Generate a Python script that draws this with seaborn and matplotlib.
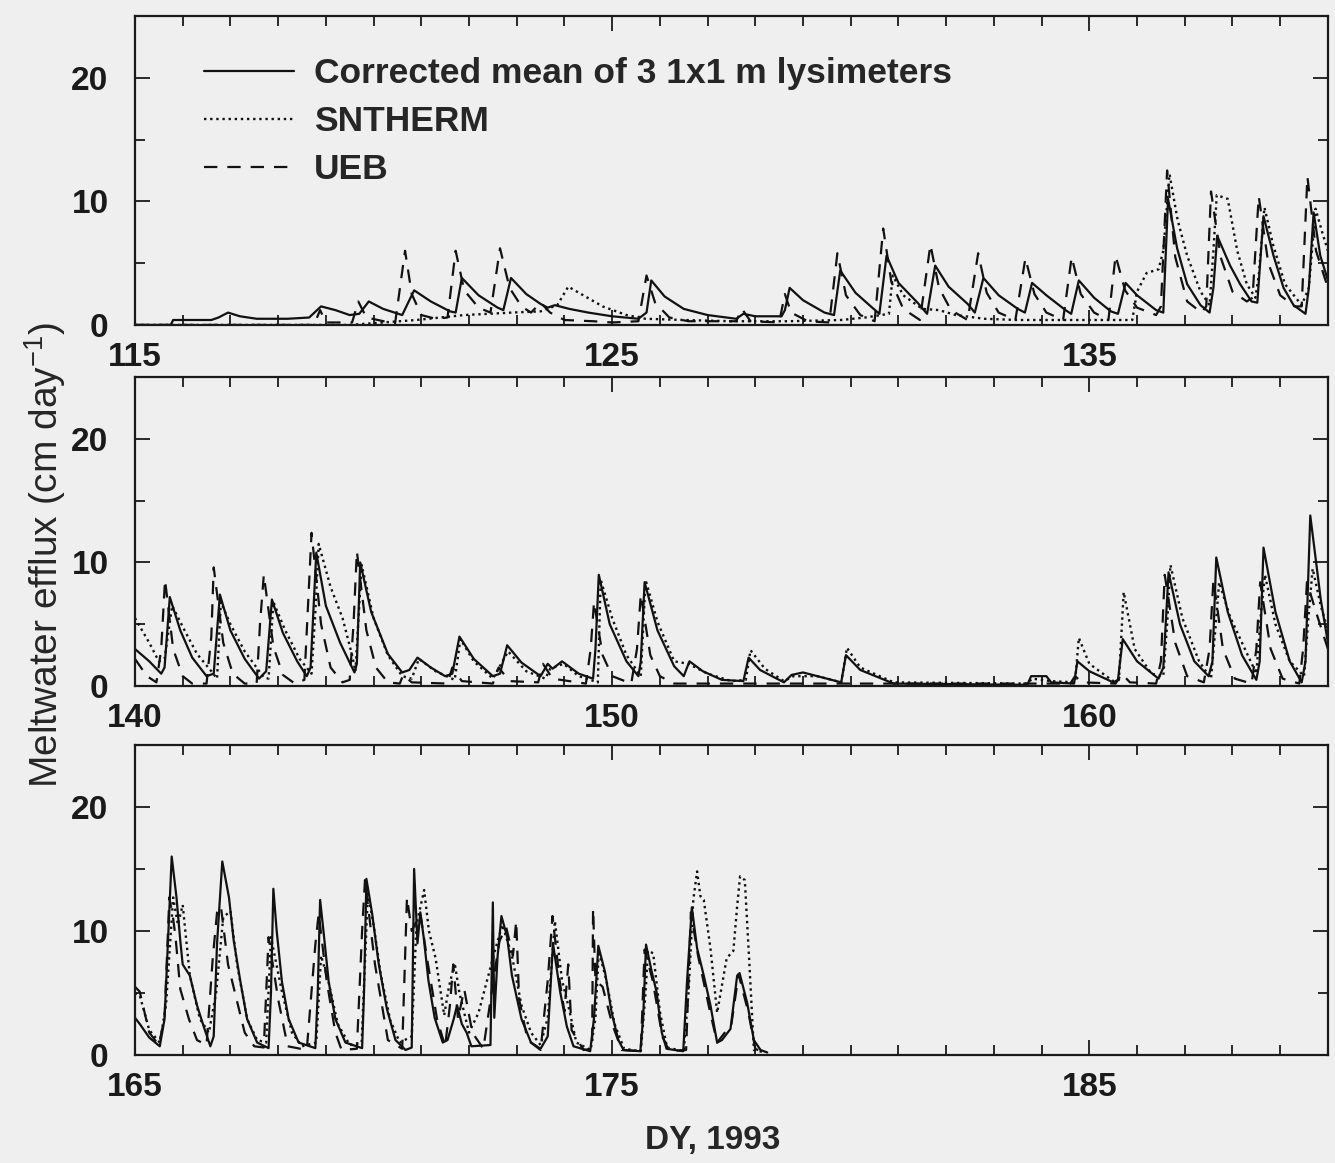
import matplotlib
matplotlib.use("Agg")
import matplotlib.pyplot as plt
import numpy as np
import pandas as pd
import seaborn as sns

# ---------------- data ----------------
series_names = ["Corrected mean of 3 1x1 m lysimeters", "SNTHERM", "UEB"]
panel_starts = [115, 140, 165]
x_tick_labels = [["115", "125", "135"], ["140", "150", "160"], ["165", "175", "185"]]
y_ticks = [0, 10, 20]

# Panel 1 (DY 115-140)
lys1_t = [115.0, 115.75, 115.8, 116.6, 116.75, 116.95, 117.2, 117.55, 118.2, 118.65, 118.9, 119.2, 119.5, 119.7,
          119.9, 120.2, 120.6, 120.85, 121.2, 121.6, 121.72, 121.85, 122.2, 122.6, 122.72, 122.88, 123.2, 123.5,
          123.65, 123.8, 124.1, 124.5, 125.0, 125.55, 125.72, 125.82, 126.1, 126.5, 127.0, 127.6, 127.75, 128.0,
          128.55, 128.62, 128.72, 129.0, 129.45, 129.65, 129.78, 130.1, 130.45, 130.6, 130.75, 131.0, 131.4, 131.6,
          131.77, 132.05, 132.45, 132.6, 132.78, 133.1, 133.5, 133.65, 133.8, 134.1, 134.5, 134.62, 134.78, 135.1,
          135.45, 135.6, 135.76, 136.0, 136.4, 136.55, 136.65, 136.84, 137.05, 137.33, 137.52, 137.6, 137.68, 137.95,
          138.16, 138.4, 138.52, 138.65, 138.86, 139.07, 139.28, 139.53, 139.6, 139.7, 139.84, 140.0]
lys1_v = [0.0, 0.0, 0.4, 0.4, 0.6, 1.0, 0.7, 0.5, 0.5, 0.6, 1.5, 1.2, 0.8, 0.9,
          1.9, 1.3, 0.8, 2.8, 1.9, 1.1, 1.0, 3.8, 2.4, 1.4, 1.2, 3.8, 2.5, 1.7,
          1.4, 1.6, 1.3, 1.0, 0.7, 0.5, 1.0, 3.6, 2.3, 1.3, 0.8, 0.5, 0.9, 0.7,
          0.7, 1.2, 3.0, 2.0, 1.0, 0.8, 4.4, 2.6, 1.4, 0.9, 5.6, 3.4, 1.8, 0.9,
          4.8, 3.1, 1.7, 1.0, 3.8, 2.4, 1.3, 1.0, 3.4, 2.4, 1.2, 0.9, 3.6, 2.2,
          1.1, 0.9, 3.4, 2.4, 1.2, 1.0, 10.2, 6.2, 3.3, 1.6, 1.0, 3.0, 7.2, 4.8,
          3.3, 1.9, 1.8, 8.8, 5.6, 3.0, 1.6, 0.9, 3.0, 9.1, 5.6, 3.6]
snt1_t = [115.0, 119.5, 120.9, 121.9, 122.9, 123.5, 123.85, 124.08, 124.35, 124.8, 125.3, 125.7, 126.5, 127.5,
          128.7, 129.8, 130.3, 130.8, 130.88, 131.1, 131.5, 131.85, 132.2, 132.8, 133.5, 135.9, 136.0, 136.2,
          136.45, 136.55, 136.68, 136.85, 137.05, 137.33, 137.52, 137.6, 137.67, 137.9, 138.1, 138.3, 138.48,
          138.55, 138.67, 138.85, 139.1, 139.45, 139.6, 139.74, 139.88, 140.0]
snt1_v = [0.0, 0.0, 0.4, 0.8, 1.0, 1.1, 1.6, 3.1, 2.5, 1.5, 0.8, 0.5, 0.4, 0.3,
          0.3, 0.4, 0.6, 0.9, 4.0, 2.4, 1.3, 1.2, 0.8, 0.5, 0.4, 0.4, 2.7, 4.2,
          4.5, 6.0, 12.2, 8.5, 5.6, 2.7, 1.6, 6.0, 10.5, 10.2, 6.0, 3.3, 2.2,
          4.0, 9.5, 6.5, 3.3, 1.6, 3.0, 9.4, 7.5, 6.0]
ueb1_t = [115.0, 118.75, 118.88, 119.0, 119.55, 119.68, 119.85, 120.45, 120.66, 120.8, 121.0, 121.3, 121.55,
          121.72, 121.9, 122.2, 122.45, 122.65, 122.85, 123.1, 123.3, 123.5, 123.7, 124.0, 124.6, 125.0, 125.55,
          125.72, 125.9, 126.2, 126.6, 127.6, 127.72, 127.9, 128.5, 128.62, 128.75, 129.1, 129.55, 129.72, 129.9,
          130.2, 130.5, 130.68, 130.85, 131.1, 131.45, 131.67, 131.85, 132.1, 132.45, 132.67, 132.85, 133.1,
          133.45, 133.66, 133.85, 134.1, 134.45, 134.63, 134.82, 135.1, 135.4, 135.55, 135.75, 136.0, 136.4,
          136.5, 136.63, 136.8, 137.05, 137.35, 137.45, 137.55, 137.75, 138.0, 138.3, 138.42, 138.55, 138.75,
          139.0, 139.3, 139.45, 139.57, 139.75, 140.0]
ueb1_v = [0.0, 0.0, 1.2, 0.2, 0.2, 1.9, 0.6, 0.1, 6.0, 2.5, 0.8, 0.5, 0.6,
          6.0, 2.8, 1.4, 1.0, 6.2, 3.0, 1.5, 1.0, 1.8, 1.0, 0.4, 0.3, 0.2, 0.3,
          4.0, 1.8, 0.6, 0.3, 0.3, 1.3, 0.3, 0.2, 2.5, 1.0, 0.3, 0.2, 5.8, 2.4,
          0.8, 0.3, 7.8, 3.5, 1.3, 0.4, 6.5, 3.0, 1.2, 0.4, 5.8, 2.6, 1.0,
          0.4, 5.4, 2.5, 1.0, 0.4, 5.5, 2.5, 1.0, 0.4, 5.6, 2.8, 1.4, 0.8,
          1.5, 12.5, 5.5, 1.9, 1.0, 1.5, 10.8, 5.5, 2.7, 1.9, 2.2, 10.4, 5.0,
          2.4, 1.5, 1.5, 12.0, 6.0, 3.0]

# Panel 2 (DY 140-165)
lys2_t = [140.0, 140.3, 140.55, 140.62, 140.73, 140.95, 141.2, 141.5, 141.65, 141.78, 142.0, 142.3, 142.6, 142.75,
          142.87, 143.1, 143.4, 143.6, 143.68, 143.8, 144.0, 144.3, 144.6, 144.65, 144.72, 144.95, 145.3, 145.6,
          145.75, 145.92, 146.2, 146.5, 146.65, 146.8, 147.1, 147.5, 147.65, 147.8, 148.1, 148.5, 148.65, 148.75,
          148.95, 149.3, 149.6, 149.65, 149.72, 149.95, 150.3, 150.55, 150.6, 150.68, 150.95, 151.3, 151.5, 151.62,
          151.9, 152.3, 152.75, 152.86, 153.1, 153.6, 153.76, 154.0, 154.3, 154.8, 154.9, 155.2, 155.9, 158.7, 158.78,
          159.1, 159.2, 159.68, 159.75, 160.0, 160.5, 160.6, 160.7, 161.0, 161.45, 161.55, 161.66, 161.9, 162.2,
          162.5, 162.58, 162.66, 162.9, 163.2, 163.5, 163.57, 163.65, 163.9, 164.2, 164.45, 164.53, 164.63,
          164.85, 165.0]
lys2_v = [3.0, 2.0, 1.0, 1.5, 7.2, 4.5, 2.3, 0.8, 1.0, 7.4, 4.5, 2.2, 0.6, 1.2,
          7.0, 4.3, 2.0, 0.8, 1.5, 10.8, 6.5, 3.5, 1.1, 1.8, 10.0, 6.0, 2.6, 1.1,
          1.3, 2.3, 1.5, 0.8, 1.0, 4.0, 2.2, 0.8, 1.0, 3.3, 1.9, 0.8, 1.8, 1.4,
          2.0, 1.0, 0.6, 3.0, 9.0, 5.0, 2.0, 0.8, 2.0, 8.4, 4.5, 1.6, 0.8, 2.0,
          1.2, 0.5, 0.4, 2.3, 1.3, 0.3, 0.9, 1.1, 0.8, 0.3, 2.5, 1.3, 0.2, 0.1, 0.8,
          0.8, 0.3, 0.2, 2.0, 1.2, 0.3, 0.5, 3.8, 2.0, 0.6, 1.5, 9.2, 5.0, 2.0,
          0.8, 2.0, 10.4, 6.0, 2.5, 0.5, 2.0, 11.2, 6.0, 2.0, 0.3, 2.0, 13.8,
          7.0, 3.5]
snt2_t = [140.0, 140.3, 140.5, 140.62, 140.78, 141.0, 141.3, 141.6, 141.72, 141.8, 142.0, 142.3, 142.7, 142.8,
          142.9, 143.15, 143.45, 143.7, 143.78, 143.85, 144.1, 144.35, 144.55, 144.62, 144.75, 145.0, 145.3,
          145.6, 145.8, 145.95, 146.3, 146.7, 146.82, 147.1, 147.5, 147.82, 148.2, 148.6, 148.7, 148.98, 149.3,
          149.7, 149.76, 150.0, 150.3, 150.6, 150.7, 150.95, 151.3, 151.6, 152.0, 152.5, 152.8, 152.9, 153.2,
          153.6, 153.8, 154.3, 154.8, 154.92, 155.2, 155.9, 158.7, 158.8, 159.2, 159.7, 159.78, 160.0, 160.5,
          160.62, 160.72, 160.95, 161.3, 161.55, 161.63, 161.7, 161.95, 162.3, 162.55, 162.65, 162.72, 162.95,
          163.2, 163.5, 163.6, 163.68, 163.9, 164.2, 164.5, 164.6, 164.68, 164.85, 165.0]
snt2_v = [5.5, 3.5, 2.0, 2.2, 6.5, 4.8, 2.6, 1.2, 0.6, 6.8, 5.0, 2.8, 0.7, 0.6,
          6.8, 4.5, 2.2, 1.0, 6.0, 11.5, 8.0, 5.5, 2.5, 1.2, 9.8, 5.5, 2.5,
          0.8, 0.6, 2.2, 1.2, 0.5, 3.8, 2.0, 0.6, 2.8, 1.2, 0.6, 1.4, 1.8, 0.8,
          0.3, 8.6, 5.5, 2.5, 0.8, 8.6, 5.2, 2.0, 1.8, 1.0, 0.4, 0.5, 2.9, 1.4,
          0.4, 0.8, 0.8, 0.3, 3.1, 1.5, 0.3, 0.2, 0.6, 0.4, 0.3, 3.9, 1.8, 0.4,
          0.5, 7.6, 3.0, 1.0, 0.8, 5.0, 9.8, 5.5, 2.0, 0.6, 5.0, 8.4, 5.6,
          3.5, 1.0, 6.0, 9.0, 5.0, 2.0, 0.8, 6.0, 9.5, 6.5, 4.5]
ueb2_t = [140.0, 140.25, 140.45, 140.55, 140.63, 140.8, 141.0, 141.2, 141.5, 141.6, 141.65, 141.85, 142.05, 142.3,
          142.55, 142.62, 142.7, 142.9, 143.1, 143.35, 143.55, 143.62, 143.7, 143.9, 144.1, 144.35, 144.5, 144.58,
          144.65, 144.85, 145.05, 145.3, 145.55, 145.62, 145.8, 146.55, 146.65, 146.85, 147.5, 147.62, 147.85,
          148.45, 148.55, 148.75, 149.45, 149.55, 149.62, 149.8, 150.0, 150.4, 150.52, 150.6, 150.8, 151.0, 151.3,
          159.6, 159.7, 159.85, 160.55, 160.68, 160.85, 161.4, 161.5, 161.58, 161.8, 162.05, 162.4, 162.52, 162.6,
          162.8, 163.05, 163.4, 163.5, 163.58, 163.8, 164.05, 164.4, 164.48, 164.56, 164.75, 165.0]
ueb2_v = [2.2, 0.8, 0.3, 3.0, 8.6, 3.0, 0.8, 0.2, 0.2, 4.0, 9.6, 3.5, 1.0, 0.2,
          0.2, 5.0, 9.0, 3.2, 0.9, 0.2, 0.5, 6.0, 12.4, 5.0, 1.5, 0.3, 0.5, 5.0,
          10.9, 4.5, 1.5, 0.3, 0.2, 0.9, 0.3, 0.2, 1.5, 0.4, 0.2, 1.5, 0.4,
          0.3, 1.8, 0.6, 0.2, 3.0, 6.8, 2.5, 0.8, 0.2, 3.0, 7.4, 2.5, 0.8, 0.2,
          0.2, 0.8, 0.3, 0.2, 1.0, 0.3, 0.2, 2.0, 9.0, 3.5, 0.8, 0.3, 3.0, 8.6,
          3.0, 0.6, 0.2, 3.0, 8.4, 3.0, 0.6, 0.2, 3.0, 8.4, 6.0, 3.0]

# Panel 3 (DY 165-190)
lys3_t = [165.0, 165.1, 165.3, 165.52, 165.62, 165.77, 165.87, 165.95, 166.0, 166.15, 166.3, 166.44, 166.58,
          166.65, 166.72, 166.83, 166.97, 167.07, 167.21, 167.35, 167.56, 167.8, 167.85, 167.9, 167.97, 168.08,
          168.22, 168.43, 168.78, 168.83, 168.88, 168.95, 169.06, 169.2, 169.41, 169.76, 169.8, 169.85, 169.97,
          170.11, 170.28, 170.46, 170.67, 170.8, 170.85, 170.92, 170.98, 171.05, 171.15, 171.28, 171.45, 171.55,
          171.68, 171.75, 171.85, 171.95, 172.05, 172.45, 172.5, 172.53, 172.6, 172.68, 172.8, 172.9, 173.1,
          173.3, 173.5, 173.65, 173.76, 173.91, 174.05, 174.19, 174.54, 174.62, 174.71, 174.85, 174.99, 175.13,
          175.24, 175.59, 175.65, 175.71, 175.83, 175.93, 176.04, 176.14, 176.49, 176.57, 176.67, 176.78, 176.92,
          177.06, 177.2, 177.3, 177.48, 177.62, 177.67, 177.83, 177.97, 178.11, 178.25]
lys3_v = [3.0, 2.5, 1.4, 0.7, 2.9, 16.0, 12.7, 9.2, 7.3, 6.4, 4.0, 2.3, 0.7,
          1.5, 9.0, 15.6, 12.7, 9.2, 5.9, 2.9, 1.0, 0.55, 5.0, 13.4, 10.0, 5.9,
          2.9, 1.0, 0.55, 5.0, 12.5, 10.0, 5.9, 2.9, 1.0, 0.55, 5.0, 14.2, 11.4,
          7.3, 3.7, 1.2, 0.4, 0.6, 15.0, 9.0, 11.5, 9.5, 6.0, 3.0, 1.0, 1.2,
          2.9, 4.0, 2.5, 1.8, 0.7, 0.8, 12.3, 3.0, 8.0, 11.2, 9.5, 6.4, 2.9,
          1.0, 0.5, 1.5, 9.0, 5.1, 2.3, 0.7, 0.3, 3.0, 8.8, 6.7, 3.4, 1.2,
          0.4, 0.3, 3.0, 8.9, 6.7, 5.1, 1.8, 0.5, 0.3, 6.0, 11.9, 8.6, 6.4,
          4.0, 1.0, 1.2, 2.1, 6.4, 6.6, 4.2, 1.2, 0.4, 0.2]
snt3_t = [165.0, 165.1, 165.3, 165.52, 165.65, 165.8, 165.9, 166.0, 166.15, 166.36, 166.55, 166.7, 166.85, 167.0,
          167.14, 167.35, 167.56, 167.75, 167.85, 168.08, 168.29, 168.5, 168.8, 168.9, 169.05, 169.25, 169.5,
          169.75, 169.88, 170.0, 170.15, 170.35, 170.55, 170.8, 170.9, 171.06, 171.16, 171.3, 171.48, 171.58,
          171.7, 171.8, 172.0, 172.2, 172.35, 172.55, 172.7, 172.9, 173.1, 173.3, 173.5, 173.65, 173.8, 173.95,
          174.08, 174.25, 174.55, 174.65, 174.72, 174.88, 175.05, 175.25, 175.6, 175.7, 175.75, 175.86, 176.0,
          176.15, 176.5, 176.6, 176.7, 176.78, 176.85, 176.92, 177.06, 177.2, 177.3, 177.4, 177.54, 177.62,
          177.68, 177.78, 177.87, 177.97, 178.2]
snt3_v = [5.0, 4.8, 2.0, 1.0, 4.0, 12.7, 10.5, 12.1, 6.4, 2.9, 1.8, 5.0, 11.1, 11.6,
          7.3, 2.9, 1.2, 1.0, 9.5, 5.1, 1.8, 0.7, 1.0, 8.0, 6.0, 2.5, 0.8,
          1.0, 13.0, 10.5, 6.5, 2.8, 1.0, 1.5, 10.5, 13.3, 10.0, 7.8, 3.2, 5.5,
          7.4, 5.0, 1.8, 3.4, 5.6, 8.5, 10.5, 8.0, 4.0, 1.8, 0.8, 3.0, 10.8, 6.0,
          4.0, 1.0, 0.4, 3.0, 8.4, 6.0, 2.5, 0.5, 0.3, 5.0, 8.4, 8.2, 3.5,
          0.6, 0.3, 5.0, 12.5, 14.8, 12.8, 12.5, 8.6, 3.4, 5.6, 7.8, 8.4, 12.0,
          14.4, 14.1, 7.8, 0.4, 0.2]
ueb3_t = [165.0, 165.1, 165.3, 165.5, 165.62, 165.72, 165.8, 165.85, 165.95, 166.13, 166.3, 166.5, 166.63, 166.72,
          166.8, 166.95, 167.3, 167.5, 167.7, 167.8, 168.0, 168.2, 168.6, 168.78, 168.85, 169.02, 169.2, 169.33,
          169.65, 169.76, 169.82, 170.03, 170.3, 170.6, 170.7, 170.8, 170.98, 171.12, 171.33, 171.5, 171.6,
          171.67, 171.77, 171.9, 172.07, 172.3, 172.55, 172.64, 172.78, 172.92, 172.99, 173.05, 173.23, 173.5,
          173.65, 173.75, 173.9, 174.0, 174.08, 174.15, 174.4, 174.58, 174.6, 174.65, 174.8, 175.0, 175.2, 175.6,
          175.68, 175.85, 176.05, 176.2, 176.55, 176.65, 176.8, 177.05, 177.2, 177.5, 177.65, 177.85, 178.0,
          178.15]
ueb3_v = [5.5, 5.1, 1.8, 0.8, 3.0, 12.7, 11.0, 9.5, 5.3, 2.9, 1.2, 0.8, 7.8, 11.5,
          12.0, 7.3, 1.8, 0.7, 0.6, 9.5, 4.5, 0.7, 0.4, 8.9, 11.4, 5.9, 1.8, 0.4,
          0.5, 10.0, 14.1, 7.3, 1.2, 0.5, 12.7, 10.0, 11.4, 7.8, 2.9, 0.7, 4.0,
          7.3, 2.9, 5.3, 1.8, 0.5, 7.0, 9.2, 10.3, 8.0, 10.8, 4.5, 1.2, 0.4,
          6.0, 11.2, 6.0, 3.5, 7.3, 2.0, 0.4, 0.5, 11.8, 6.0, 5.5, 2.5, 0.4, 0.3,
          8.5, 6.0, 1.5, 0.3, 0.4, 11.5, 8.0, 3.5, 1.0, 2.5, 6.5, 3.5, 0.5,
          0.2]

panels = [
    [(lys1_t, lys1_v), (snt1_t, snt1_v), (ueb1_t, ueb1_v)],
    [(lys2_t, lys2_v), (snt2_t, snt2_v), (ueb2_t, ueb2_v)],
    [(lys3_t, lys3_v), (snt3_t, snt3_v), (ueb3_t, ueb3_v)],
]

# ---------------- style ----------------
bg = "#efefef"
sns.set_theme(style="ticks")
plt.rcParams["font.family"] = ["Liberation Sans", "DejaVu Sans"]
plt.rcParams["font.weight"] = "bold"
plt.rcParams["mathtext.fontset"] = "custom"
plt.rcParams["mathtext.rm"] = "Liberation Sans"
plt.rcParams["mathtext.it"] = "Liberation Sans:italic"
plt.rcParams["mathtext.bf"] = "Liberation Sans:bold"

line_styles = ["-", (0, (1, 1.6)), (0, (6, 4.5))]
line_widths = [1.6, 1.7, 1.6]

fig = plt.figure(figsize=(13.35, 11.63), dpi=100, facecolor=bg)

ax_rects = [
    [0.1011, 0.7206, 0.8936, 0.2657],
    [0.1011, 0.4101, 0.8936, 0.2657],
    [0.1011, 0.0929, 0.8936, 0.2666],
]

axes = []
for p, (rect, data, start, labels) in enumerate(zip(ax_rects, panels, panel_starts, x_tick_labels)):
    ax = fig.add_axes(rect)
    ax.set_facecolor(bg)
    # draw UEB, SNTHERM first, lysimeter last (on top)
    for k in [2, 1, 0]:
        t, v = data[k]
        df = pd.DataFrame({"DY": t, "flux": v})
        sns.lineplot(data=df, x="DY", y="flux", ax=ax, color="#111111",
                     linewidth=line_widths[k], linestyle=line_styles[k],
                     estimator=None, sort=False, legend=False)
        ax.lines[-1].set_label(series_names[k])
    ax.set_xlim(start, start + 25)
    ax.set_ylim(0, 25)
    ax.set_xticks([start, start + 10, start + 20])
    ax.set_xticklabels(labels)
    ax.set_xticks(np.arange(start, start + 26, 1), minor=True)
    ax.set_yticks(y_ticks)
    ax.set_yticklabels([str(y) for y in y_ticks])
    ax.set_yticks([5, 15], minor=True)
    ax.set_xlabel("")
    ax.set_ylabel("")
    ax.tick_params(which="both", direction="in", top=True, right=True, width=1.3, colors="#1a1a1a")
    ax.tick_params(which="major", length=11)
    ax.tick_params(which="minor", length=7)
    ax.tick_params(axis="x", which="major", labelsize=24, pad=12)
    ax.tick_params(axis="y", which="major", labelsize=24, pad=19)
    for s in ax.spines.values():
        s.set_linewidth(1.6)
        s.set_color("#1a1a1a")
    for lbl in ax.get_xticklabels() + ax.get_yticklabels():
        lbl.set_fontweight("bold")
    axes.append(ax)

# legend in top panel: solid, dotted, dashed
ax0 = axes[0]
hmap = {l.get_label(): l for l in ax0.lines}
leg = ax0.legend([hmap[n] for n in series_names], series_names, loc="upper left",
                 bbox_to_anchor=(0.058, 0.866), frameon=False, fontsize=25.5,
                 handlelength=2.55, handletextpad=0.55, labelspacing=0.42,
                 borderpad=0.0, borderaxespad=0.0)
for txt in leg.get_texts():
    txt.set_fontweight("bold")

fig.text(0.034, 0.523, r"Meltwater efflux (cm day$^{\mathregular{-1}}$)", rotation=90,
         ha="center", va="center", fontsize=28, fontweight="normal")
fig.text(0.534, 0.0195, "DY, 1993", ha="center", va="center", fontsize=24, fontweight="bold")

fig.savefig("out.png", dpi=100, facecolor=bg)
